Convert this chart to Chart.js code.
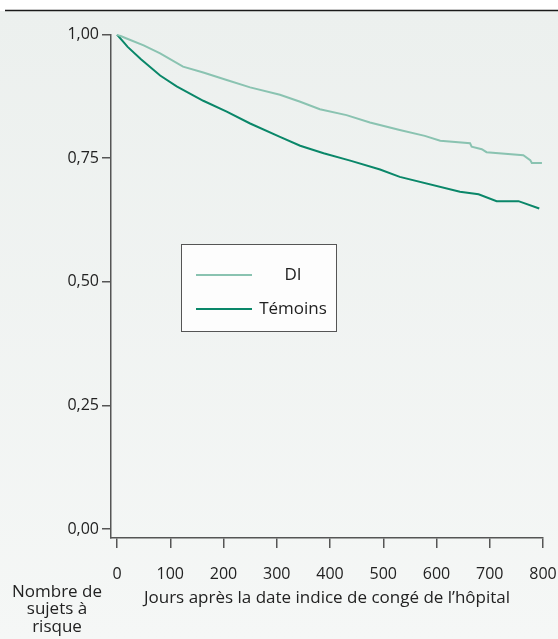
<!DOCTYPE html>
<html>
<head>
<meta charset="utf-8">
<script src="https://cdn.jsdelivr.net/npm/chart.js@4.4.0/dist/chart.umd.min.js"></script>
<style>
  html, body { margin: 0; padding: 0; background: #fff; }
  #wrap { width: 558px; height: 639px; }
</style>
</head>
<body>
<div id="wrap"><canvas id="chart" width="558" height="639"></canvas></div>
<script>
// survival curves
const diDays = [0, 18, 50, 81, 124, 162, 206, 250, 306, 344, 381, 431, 475, 531, 578, 607, 663, 666, 685, 694, 763, 776, 779, 798];
const diValues = [1.0, 0.992, 0.978, 0.962, 0.935, 0.923, 0.908, 0.893, 0.878, 0.864, 0.849, 0.837, 0.822, 0.807, 0.795, 0.785, 0.780, 0.773, 0.768, 0.762, 0.756, 0.746, 0.740, 0.740];

const temoinsDays = [0, 20, 45, 81, 112, 162, 206, 250, 306, 344, 388, 438, 494, 531, 644, 679, 713, 754, 793];
const temoinsValues = [1.0, 0.975, 0.950, 0.917, 0.895, 0.866, 0.844, 0.820, 0.793, 0.775, 0.760, 0.745, 0.727, 0.712, 0.682, 0.677, 0.663, 0.663, 0.648];

const xTicks = [0, 100, 200, 300, 400, 500, 600, 700, 800];
const yTicks = [0, 0.25, 0.5, 0.75, 1.0];

const seriesNames = ['DI', 'Témoins'];
const seriesColors = ['#8ac3b1', '#0a8769'];

const xTitle = 'Jours après la date indice de congé de l’hôpital';
const sideLabel = ['Nombre de', 'sujets à', 'risque'];

const FONT = '"Open Sans", "Noto Sans", sans-serif';
const NUM_SIZE = 16;
const WORD_SIZE = 17;
const AXIS = '#555';
const TEXT = '#222';

const toPoints = (xs, ys) => xs.map((x, i) => ({ x: x, y: ys[i] }));

const decor = {
    id: 'decor',
    beforeDraw(chart) {
        const ctx = chart.ctx;
        ctx.save();
        ctx.fillStyle = '#fff';
        ctx.fillRect(0, 0, chart.width, chart.height);
        const g = ctx.createLinearGradient(0, 12, 0, chart.height);
        g.addColorStop(0, '#ecf0ee');
        g.addColorStop(1, '#f5f7f6');
        ctx.fillStyle = g;
        ctx.fillRect(0, 11, chart.width, chart.height - 11);
        ctx.strokeStyle = '#1a1a1a';
        ctx.lineWidth = 1.6;
        ctx.beginPath();
        ctx.moveTo(5, 10.5);
        ctx.lineTo(chart.width, 10.5);
        ctx.stroke();
        ctx.restore();
    },
    afterDraw(chart) {
        const ctx = chart.ctx;
        ctx.save();
        // legend box
        ctx.fillStyle = '#fdfdfd';
        ctx.fillRect(181.5, 244.5, 155, 87);
        ctx.strokeStyle = AXIS;
        ctx.lineWidth = 1;
        ctx.strokeRect(181.5, 244.5, 155, 87);
        const rows = [275, 309];
        ctx.font = WORD_SIZE + 'px ' + FONT;
        ctx.textAlign = 'center';
        ctx.textBaseline = 'middle';
        seriesNames.forEach((name, i) => {
            ctx.strokeStyle = seriesColors[i];
            ctx.lineWidth = 1.8;
            ctx.beginPath();
            ctx.moveTo(196, rows[i]);
            ctx.lineTo(252, rows[i]);
            ctx.stroke();
            ctx.fillStyle = TEXT;
            ctx.fillText(name, 293, rows[i]);
        });
        // left label under the axis
        [592, 609.5, 627].forEach((y, i) => ctx.fillText(sideLabel[i], 57, y));
        ctx.restore();
    }
};

new Chart(document.getElementById('chart'), {
    type: 'line',
    data: {
        datasets: [
            {
                label: seriesNames[0],
                data: toPoints(diDays, diValues),
                borderColor: seriesColors[0],
                borderWidth: 2,
                pointRadius: 0,
                tension: 0
            },
            {
                label: seriesNames[1],
                data: toPoints(temoinsDays, temoinsValues),
                borderColor: seriesColors[1],
                borderWidth: 2,
                pointRadius: 0,
                tension: 0
            }
        ]
    },
    options: {
        responsive: false,
        animation: false,
        devicePixelRatio: 1,
        layout: { padding: { top: 34.5, right: 15, left: 0, bottom: 0 } },
        plugins: {
            legend: { display: false },
            tooltip: { enabled: false }
        },
        scales: {
            x: {
                type: 'linear',
                min: -11.3,
                max: 800,
                afterBuildTicks: (s) => { s.ticks = xTicks.map(v => ({ value: v })); },
                afterFit: (s) => { s.height = 101; s.paddingLeft = 0; s.paddingRight = 0; },
                grid: { drawOnChartArea: false, drawTicks: true, tickLength: 10, color: AXIS, lineWidth: 1.5 },
                border: { color: AXIS, width: 1.5 },
                ticks: {
                    autoSkip: false, maxRotation: 0, padding: 17,
                    color: TEXT, font: { family: FONT, size: NUM_SIZE }
                },
                title: {
                    display: true, text: xTitle, color: TEXT,
                    font: { family: FONT, size: WORD_SIZE }, padding: { top: 0, bottom: 31 }
                }
            },
            y: {
                min: -0.0182,
                max: 1,
                afterBuildTicks: (s) => { s.ticks = yTicks.map(v => ({ value: v })); },
                afterFit: (s) => { s.width = 111; s.paddingTop = 0; s.paddingBottom = 0; },
                grid: { drawOnChartArea: false, drawTicks: true, tickLength: 9, color: AXIS, lineWidth: 1.5 },
                border: { color: AXIS, width: 1.5 },
                ticks: {
                    padding: 3, color: TEXT, font: { family: FONT, size: NUM_SIZE },
                    callback: (v) => v.toFixed(2).replace('.', ',')
                }
            }
        }
    },
    plugins: [decor]
});
</script>
</body>
</html>
